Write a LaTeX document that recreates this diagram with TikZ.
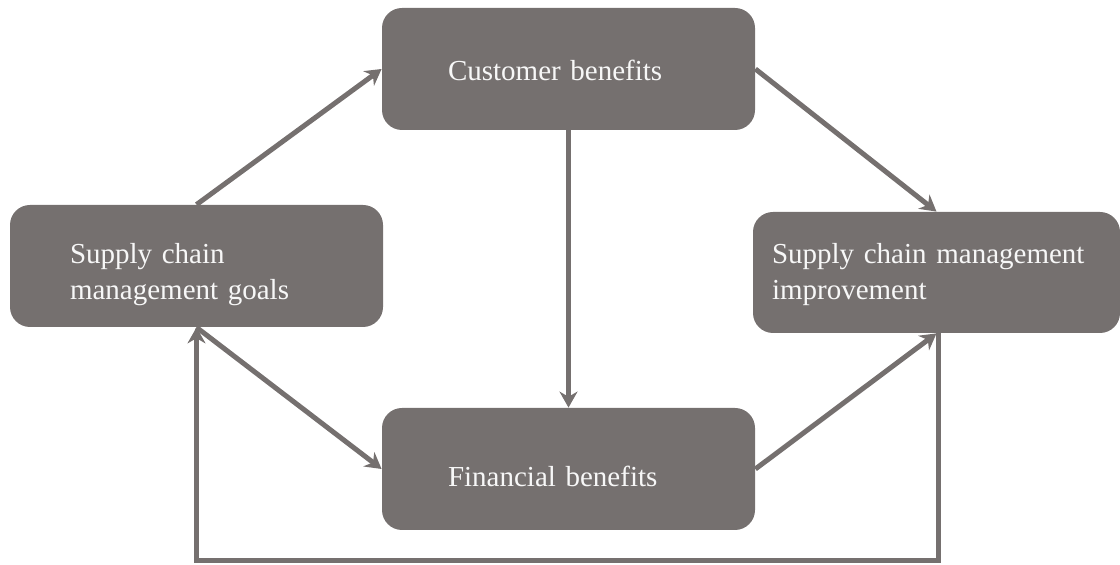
\documentclass[tikz,border=0pt]{standalone}
\usepackage{fontspec}
\setmainfont{Liberation Serif}
\usepackage{tikz}
\usetikzlibrary{arrows.meta,positioning}
\definecolor{BoxGray}{HTML}{75706F}
\definecolor{TextWhite}{HTML}{F7F7F7}

\begin{document}
\begin{tikzpicture}[x=0.5pt,y=-0.5pt,
  box/.style={fill=BoxGray, rounded corners=10pt, text=TextWhite,
              align=left, minimum height=61pt, inner ysep=0pt,
              font=\fontsize{14.5}{18}\selectfont},
  low/.style={execute at begin node={\rule{0pt}{#1}}},
  link/.style={BoxGray, line width=2.5pt, -{Stealth[length=8pt,width=9pt]}},
  >=Stealth]
  \useasboundingbox (0,0) rectangle (1120,565);
  \node[box, low=12pt, text width=120.5pt, inner xsep=33pt] (cust) at (568.5,69)  {Customer benefits};
  \node[box, low=19pt, text width=126.5pt, inner xsep=30pt] (goals) at (196.5,266) {Supply chain\\management goals};
  \node[box, low=12pt, text width=164.5pt, inner xsep=9.5pt, minimum height=60.5pt] (impr) at (936.5,272.5)
    {Supply chain management\\improvement};
  \node[box, low=18pt, text width=120.5pt, inner xsep=33pt] (fin) at (568.5,469) {Financial benefits};
  \draw[link] (goals.north) -- (cust.west);
  \draw[link] (cust.east) -- (impr.north);
  \draw[link] (cust.south) -- (fin.north);
  \draw[link] (goals.south) -- (fin.west);
  \draw[link] (fin.east) -- (impr.south);
  % feedback loop
  \draw[link] ([xshift=1pt]impr.south) -- ([xshift=1pt]impr.south |- 0,561) -| (goals.south);
\end{tikzpicture}
\end{document}
